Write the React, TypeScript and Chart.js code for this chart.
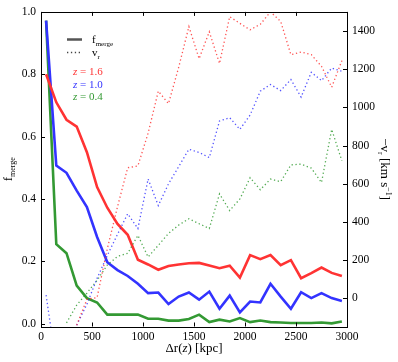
import React, { useEffect, useRef } from "react";
import { Chart, registerables } from "chart.js";
Chart.register(...registerables);

// Bin centres of Δr(z) [kpc]
const xKpc = [50, 150, 250, 350, 450, 550, 650, 750, 850, 950, 1050, 1150, 1250, 1350, 1450, 1550, 1650, 1750, 1850, 1950, 2050, 2150, 2250, 2350, 2450, 2550, 2650, 2750, 2850, 2950];

// f_merge (left axis)
const fMergeZ16 = [0.80, 0.71, 0.654, 0.632, 0.55, 0.438, 0.372, 0.32, 0.285, 0.205, 0.19, 0.173, 0.185, 0.19, 0.194, 0.195, 0.187, 0.178, 0.186, 0.148, 0.22, 0.207, 0.22, 0.188, 0.204, 0.146, 0.162, 0.18, 0.163, 0.153];
const fMergeZ10 = [0.972, 0.507, 0.484, 0.427, 0.374, 0.278, 0.197, 0.172, 0.153, 0.128, 0.098, 0.10, 0.063, 0.087, 0.10, 0.077, 0.103, 0.048, 0.09, 0.036, 0.071, 0.068, 0.128, 0.087, 0.048, 0.101, 0.082, 0.098, 0.082, 0.073];
const fMergeZ04 = [0.972, 0.255, 0.226, 0.122, 0.082, 0.068, 0.029, 0.029, 0.029, 0.029, 0.016, 0.016, 0.01, 0.01, 0.015, 0.029, 0.005, 0.013, 0.007, 0.018, 0.005, 0.01, 0.005, 0.004, 0.002, 0.002, 0.002, 0.004, 0.001, 0.007];

// -v_r [km/s] (right axis)
const vrZ16 = [null, null, null, -140, -5, 5, 260, 480, 684, 694, 865, 1085, 1020, 1210, 1423, 1255, 1396, 1230, 1475, 1440, 1406, 1435, 1500, 1450, 1276, 1290, 1276, 1215, 1106, 1245];
const vrZ10 = [17, -350, -300, -140, -30, 105, 225, 335, 443, 366, 625, 486, 600, 690, 781, 764, 737, 929, 946, 885, 960, 1085, 1120, 1088, 1146, 1054, 1184, 1140, 1206, 1189];
const vrZ04 = [null, null, -128, -35, 28, 95, 175, 220, 236, 330, 217, 278, 340, 384, 417, 391, 366, 547, 460, 521, 632, 569, 625, 611, 699, 703, 682, 607, 885, 720];

const xTicks = [0, 500, 1000, 1500, 2000, 2500, 3000];
const fTicks = [0, 0.2, 0.4, 0.6, 0.8, 1.0];
const vTicks = [0, 200, 400, 600, 800, 1000, 1200, 1400];

const redSolid = "#ff3333";
const blueSolid = "#3333ff";
const greenSolid = "#339933";
const redDot = "rgba(255,40,40,0.8)";
const blueDot = "rgba(40,40,255,0.8)";
const greenDot = "rgba(40,150,40,0.8)";

const SERIF = "'Liberation Serif', 'DejaVu Serif', serif";

type Run = { t: string; font: string; dy?: number; color?: string };

function drawRuns(ctx: CanvasRenderingContext2D, runs: Run[], x0: number, y0: number, rot: number, center: boolean) {
  ctx.save();
  ctx.translate(x0, y0);
  ctx.rotate(rot);
  const widths = runs.map((r) => {
    ctx.font = r.font;
    return ctx.measureText(r.t).width;
  });
  const total = widths.reduce((a, b) => a + b, 0);
  let x = center ? -total / 2 : 0;
  ctx.textBaseline = "alphabetic";
  ctx.textAlign = "left";
  runs.forEach((r, i) => {
    ctx.font = r.font;
    ctx.fillStyle = r.color || "#000";
    ctx.fillText(r.t, x, r.dy || 0);
    x += widths[i];
  });
  ctx.restore();
}

const decorPlugin = {
  id: "decor",
  afterDraw(chart: any) {
    const ctx: CanvasRenderingContext2D = chart.ctx;
    const a = chart.chartArea;
    const xs = chart.scales.x;
    const ys = chart.scales.y;
    const y2 = chart.scales.y2;
    ctx.save();
    ctx.strokeStyle = "#000";
    ctx.lineWidth = 1;
    ctx.strokeRect(Math.round(a.left) + 0.5, Math.round(a.top) + 0.5, Math.round(a.right - a.left), Math.round(a.bottom - a.top));
    const tl = 4;
    ctx.beginPath();
    xTicks.forEach((v) => {
      const px = Math.round(xs.getPixelForValue(v)) + 0.5;
      ctx.moveTo(px, a.bottom);
      ctx.lineTo(px, a.bottom - tl);
      ctx.moveTo(px, a.top);
      ctx.lineTo(px, a.top + tl);
    });
    fTicks.forEach((v) => {
      const py = Math.round(ys.getPixelForValue(v)) + 0.5;
      ctx.moveTo(a.left, py);
      ctx.lineTo(a.left + tl, py);
    });
    vTicks.forEach((v) => {
      const py = Math.round(y2.getPixelForValue(v)) + 0.5;
      ctx.moveTo(a.right, py);
      ctx.lineTo(a.right - tl, py);
    });
    ctx.stroke();

    // axis titles
    const big = `13px ${SERIF}`;
    const bigI = `italic 13px ${SERIF}`;
    const sub = `8px ${SERIF}`;
    drawRuns(ctx, [
      { t: "Δr(", font: big },
      { t: "z", font: bigI },
      { t: ") [kpc]", font: big },
    ], (a.left + a.right) / 2, 352, 0, true);
    drawRuns(ctx, [
      { t: "f", font: big },
      { t: "merge", font: sub, dy: 3 },
    ], 12, (a.top + a.bottom) / 2, -Math.PI / 2, true);
    drawRuns(ctx, [
      { t: "−v", font: big },
      { t: "r", font: sub, dy: 3 },
      { t: " [km s", font: big },
      { t: "−1", font: sub, dy: -5 },
      { t: "]", font: big },
    ], 381, (a.top + a.bottom) / 2, Math.PI / 2, true);

    // legend
    ctx.lineWidth = 2.5;
    ctx.strokeStyle = "#555";
    ctx.setLineDash([]);
    ctx.beginPath();
    ctx.moveTo(67, 39.5);
    ctx.lineTo(82, 39.5);
    ctx.stroke();
    ctx.lineWidth = 1.3;
    ctx.strokeStyle = "#444";
    ctx.setLineDash([1.3, 2.6]);
    ctx.beginPath();
    ctx.moveTo(67, 52.5);
    ctx.lineTo(82, 52.5);
    ctx.stroke();
    ctx.setLineDash([]);
    const lf = `11px ${SERIF}`;
    const lfi = `italic 11px ${SERIF}`;
    drawRuns(ctx, [
      { t: "f", font: lf },
      { t: "merge", font: `7px ${SERIF}`, dy: 2.5 },
    ], 92, 43, 0, false);
    drawRuns(ctx, [
      { t: "v", font: lf },
      { t: "r", font: `7px ${SERIF}`, dy: 2.5 },
    ], 92, 56, 0, false);
    const zl: [string, string, number][] = [
      ["1.6", redSolid, 75],
      ["1.0", blueSolid, 87.5],
      ["0.4", greenSolid, 100],
    ];
    zl.forEach(([val, col, y]) => {
      drawRuns(ctx, [
        { t: "z", font: lfi, color: col },
        { t: " = " + val, font: lf, color: col },
      ], 73, y, 0, false);
    });
    ctx.restore();
  },
};

export default function App() {
  const ref = useRef<HTMLCanvasElement | null>(null);
  useEffect(() => {
    document.body.style.margin = "0";
    const canvas = ref.current!;
    const pts = (ys: (number | null)[]) => xKpc.map((x, i) => ({ x, y: ys[i] }));
    const solid = (data: any, color: string) => ({
      data,
      yAxisID: "y",
      borderColor: color,
      borderWidth: 2.6,
      pointRadius: 0,
      tension: 0,
      fill: false,
    });
    const dotted = (data: any, color: string) => ({
      data,
      yAxisID: "y2",
      borderColor: color,
      borderWidth: 1.3,
      borderDash: [1.3, 2.6],
      pointRadius: 0,
      tension: 0,
      fill: false,
      spanGaps: false,
    });
    const tickFont = { family: SERIF, size: 11.5 };
    const chart = new Chart(canvas, {
      type: "line",
      data: {
        datasets: [
          dotted(pts(vrZ16), redDot),
          dotted(pts(vrZ10), blueDot),
          dotted(pts(vrZ04), greenDot),
          solid(pts(fMergeZ16), redSolid),
          solid(pts(fMergeZ10), blueSolid),
          solid(pts(fMergeZ04), greenSolid),
        ] as any,
      },
      options: {
        animation: false,
        responsive: false,
        maintainAspectRatio: false,
        layout: { padding: { top: 10, left: 0, right: 0, bottom: 0 } },
        plugins: { legend: { display: false }, tooltip: { enabled: false } },
        scales: {
          x: {
            type: "linear",
            min: 0,
            max: 3000,
            afterBuildTicks: (s: any) => {
              s.ticks = xTicks.map((v) => ({ value: v }));
            },
            afterFit: (s: any) => {
              s.height = 35.5;
            },
            grid: { display: false, drawTicks: false },
            border: { display: false },
            ticks: { padding: 4, font: tickFont, color: "#000", maxRotation: 0, autoSkip: false, callback: (v: any) => String(v) },
          },
          y: {
            type: "linear",
            position: "left",
            min: -0.009,
            max: 1.0,
            afterBuildTicks: (s: any) => {
              s.ticks = fTicks.map((v) => ({ value: v }));
            },
            afterFit: (s: any) => {
              s.width = 41;
            },
            grid: { display: false, drawTicks: false },
            border: { display: false },
            ticks: { padding: 5, font: tickFont, color: "#000", callback: (v: any) => Number(v).toFixed(1) },
          },
          y2: {
            type: "linear",
            position: "right",
            min: -147,
            max: 1500,
            afterBuildTicks: (s: any) => {
              s.ticks = vTicks.map((v) => ({ value: v }));
            },
            afterFit: (s: any) => {
              s.width = 51;
            },
            grid: { display: false, drawTicks: false },
            border: { display: false },
            ticks: { padding: 5, font: tickFont, color: "#000", callback: (v: any) => String(v) },
          },
        },
      } as any,
      plugins: [decorPlugin],
    });
    return () => chart.destroy();
  }, []);
  return <canvas ref={ref} width={398} height={362} style={{ display: "block" }} />;
}
